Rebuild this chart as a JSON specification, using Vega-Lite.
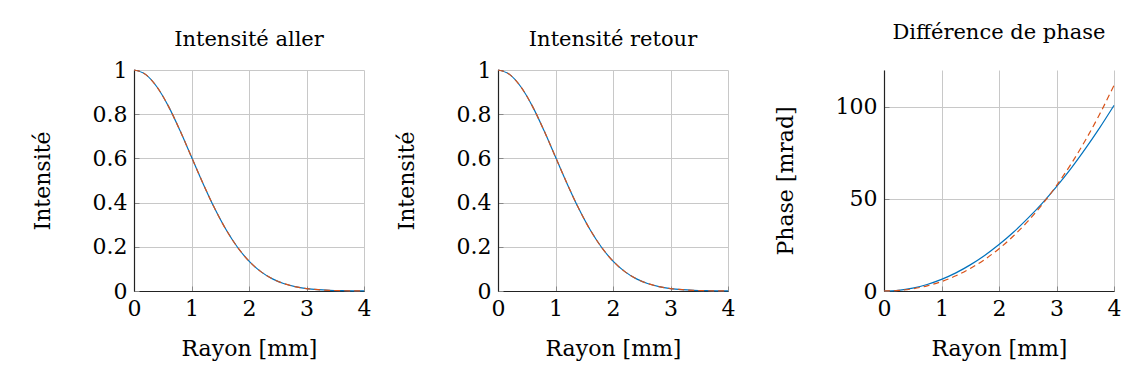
{
  "$schema": "https://vega.github.io/schema/vega-lite/v6.json",
  "background": "white",
  "padding": {"left": 31, "top": 22, "right": 5, "bottom": 5},
  "datasets": {
    "aller": [
      {"r": 0, "blue": 1, "red": 1},
      {"r": 0.2, "blue": 0.9802, "red": 0.9802},
      {"r": 0.4, "blue": 0.9231, "red": 0.9231},
      {"r": 0.6, "blue": 0.8353, "red": 0.8353},
      {"r": 0.8, "blue": 0.7261, "red": 0.7261},
      {"r": 1.0, "blue": 0.6065, "red": 0.6065},
      {"r": 1.2, "blue": 0.4868, "red": 0.4868},
      {"r": 1.4, "blue": 0.3753, "red": 0.3753},
      {"r": 1.6, "blue": 0.278, "red": 0.278},
      {"r": 1.8, "blue": 0.1979, "red": 0.1979},
      {"r": 2.0, "blue": 0.1353, "red": 0.1353},
      {"r": 2.2, "blue": 0.0889, "red": 0.0889},
      {"r": 2.4, "blue": 0.0561, "red": 0.0561},
      {"r": 2.6, "blue": 0.034, "red": 0.034},
      {"r": 2.8, "blue": 0.0198, "red": 0.0198},
      {"r": 3.0, "blue": 0.0111, "red": 0.0111},
      {"r": 3.2, "blue": 0.006, "red": 0.006},
      {"r": 3.4, "blue": 0.0031, "red": 0.0031},
      {"r": 3.6, "blue": 0.0015, "red": 0.0015},
      {"r": 3.8, "blue": 0.0007, "red": 0.0007},
      {"r": 4.0, "blue": 0.0003, "red": 0.0003}
    ],
    "retour": [
      {"r": 0, "blue": 1, "red": 1},
      {"r": 0.2, "blue": 0.9802, "red": 0.9802},
      {"r": 0.4, "blue": 0.9231, "red": 0.9231},
      {"r": 0.6, "blue": 0.8353, "red": 0.8353},
      {"r": 0.8, "blue": 0.7261, "red": 0.7261},
      {"r": 1.0, "blue": 0.6065, "red": 0.6065},
      {"r": 1.2, "blue": 0.4868, "red": 0.4868},
      {"r": 1.4, "blue": 0.3753, "red": 0.3753},
      {"r": 1.6, "blue": 0.278, "red": 0.278},
      {"r": 1.8, "blue": 0.1979, "red": 0.1979},
      {"r": 2.0, "blue": 0.1353, "red": 0.1353},
      {"r": 2.2, "blue": 0.0889, "red": 0.0889},
      {"r": 2.4, "blue": 0.0561, "red": 0.0561},
      {"r": 2.6, "blue": 0.034, "red": 0.034},
      {"r": 2.8, "blue": 0.0198, "red": 0.0198},
      {"r": 3.0, "blue": 0.0111, "red": 0.0111},
      {"r": 3.2, "blue": 0.006, "red": 0.006},
      {"r": 3.4, "blue": 0.0031, "red": 0.0031},
      {"r": 3.6, "blue": 0.0015, "red": 0.0015},
      {"r": 3.8, "blue": 0.0007, "red": 0.0007},
      {"r": 4.0, "blue": 0.0003, "red": 0.0003}
    ],
    "phase": [
      {"r": 0, "blue": 0, "red": 0},
      {"r": 0.25, "blue": 0.39, "red": 0.29},
      {"r": 0.5, "blue": 1.58, "red": 1.2},
      {"r": 0.75, "blue": 3.54, "red": 2.79},
      {"r": 1.0, "blue": 6.3, "red": 5.12},
      {"r": 1.25, "blue": 9.84, "red": 8.24},
      {"r": 1.5, "blue": 14.18, "red": 12.22},
      {"r": 1.75, "blue": 19.29, "red": 17.1},
      {"r": 2.0, "blue": 25.2, "red": 22.96},
      {"r": 2.25, "blue": 31.9, "red": 29.84},
      {"r": 2.5, "blue": 39.4, "red": 37.81},
      {"r": 2.75, "blue": 47.6, "red": 46.93},
      {"r": 3.0, "blue": 56.7, "red": 57.24},
      {"r": 3.25, "blue": 66.5, "red": 68.81},
      {"r": 3.5, "blue": 77.2, "red": 81.71},
      {"r": 3.75, "blue": 88.6, "red": 95.98},
      {"r": 4.0, "blue": 100.8, "red": 111.68}
    ]
  },
  "hconcat": [
    {
      "spacing": 24,
      "hconcat": [
        {
          "width": 230, "height": 221,
          "title": {"text": "Intensité aller", "offset": 9, "frame": "group"},
          "data": {"name": "aller"},
          "encoding": {
            "x": {"field": "r", "type": "quantitative", "scale": {"domain": [0, 4], "nice": false},
                  "axis": {"values": [0, 1, 2, 3, 4], "format": "d", "title": "Rayon [mm]", "titlePadding": 19}}
          },
          "layer": [
            {"mark": {"type": "line", "color": "#0072BD", "strokeWidth": 1.2, "interpolate": "monotone"},
             "encoding": {"y": {"field": "blue", "type": "quantitative", "scale": {"domain": [0, 1], "nice": false},
               "axis": {"values": [0, 0.2, 0.4, 0.6, 0.8, 1], "format": "~g", "title": "Intensité", "titlePadding": 38}}}},
            {"mark": {"type": "line", "color": "#D95319", "strokeWidth": 1.2, "strokeDash": [6, 4], "interpolate": "monotone"},
             "encoding": {"y": {"field": "red", "type": "quantitative", "title": "Intensité"}}}
          ]
        },
        {
          "width": 230, "height": 221,
          "title": {"text": "Intensité retour", "offset": 9, "frame": "group"},
          "data": {"name": "retour"},
          "encoding": {
            "x": {"field": "r", "type": "quantitative", "scale": {"domain": [0, 4], "nice": false},
                  "axis": {"values": [0, 1, 2, 3, 4], "format": "d", "title": "Rayon [mm]", "titlePadding": 19}}
          },
          "layer": [
            {"mark": {"type": "line", "color": "#0072BD", "strokeWidth": 1.2, "interpolate": "monotone"},
             "encoding": {"y": {"field": "blue", "type": "quantitative", "scale": {"domain": [0, 1], "nice": false},
               "axis": {"values": [0, 0.2, 0.4, 0.6, 0.8, 1], "format": "~g", "title": "Intensité", "titlePadding": 38}}}},
            {"mark": {"type": "line", "color": "#D95319", "strokeWidth": 1.2, "strokeDash": [6, 4], "interpolate": "monotone"},
             "encoding": {"y": {"field": "red", "type": "quantitative", "title": "Intensité"}}}
          ]
        }
      ]
    },
    {
      "width": 230, "height": 221,
      "title": {"text": "Différence de phase", "offset": 27, "frame": "group"},
      "data": {"name": "phase"},
      "encoding": {
        "x": {"field": "r", "type": "quantitative", "scale": {"domain": [0, 4], "nice": false},
              "axis": {"values": [0, 1, 2, 3, 4], "format": "d", "title": "Rayon [mm]", "titlePadding": 19}}
      },
      "layer": [
        {"mark": {"type": "line", "color": "#0072BD", "strokeWidth": 1.2, "interpolate": "monotone"},
         "encoding": {"y": {"field": "blue", "type": "quantitative", "scale": {"domain": [0, 120], "nice": false},
           "axis": {"values": [0, 50, 100], "format": "d", "title": "Phase [mrad]", "titlePadding": 38}}}},
        {"mark": {"type": "line", "color": "#D95319", "strokeWidth": 1.2, "strokeDash": [6, 4], "interpolate": "monotone"},
         "encoding": {"y": {"field": "red", "type": "quantitative", "title": "Phase [mrad]"}}}
      ]
    }
  ],
  "spacing": 39,
  "config": {
    "font": "DejaVu Serif",
    "view": {"stroke": null},
    "axis": {
      "grid": true,
      "gridColor": "#c8c8c8",
      "gridWidth": 1,
      "domainColor": "#222222",
      "domainWidth": 1.2,
      "tickColor": "#888888",
      "tickSize": -5,
      "labelPadding": 12,
      "labelFont": "DejaVu Serif",
      "titleFont": "DejaVu Serif",
      "labelFontSize": 22,
      "titleFontSize": 22,
      "labelColor": "#000000",
      "titleColor": "#000000",
      "titleFontWeight": "normal",
      "labelFlush": false,
      "labelOverlap": false
    },
    "title": {"font": "DejaVu Serif", "fontSize": 21, "fontWeight": "normal", "color": "#000000"}
  }
}
